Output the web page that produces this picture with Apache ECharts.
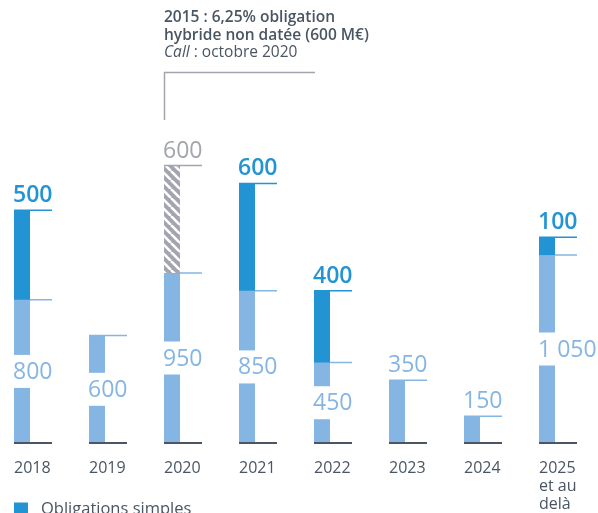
<!DOCTYPE html>
<html>
<head>
<meta charset="utf-8">
<script src="https://cdn.jsdelivr.net/npm/echarts@6/dist/echarts.min.js"></script>
<style>
html,body{margin:0;padding:0;background:#fff;}
#chart{width:598px;height:513px;}
</style>
</head>
<body>
<div id="chart"></div>
<script>
// ---- Data ----
const categories = ['2018', '2019', '2020', '2021', '2022', '2023', '2024', '2025\net au\ndelà'];
const otherBondValues = [800, 600, 950, 850, 450, 350, 150, 1050];   // light blue
const simpleBondValues = [500, 0, 0, 600, 400, 0, 0, 100];           // dark blue
const hybridBondValues = [0, 0, 600, 0, 0, 0, 0, 0];                 // hatched grey
const legendNames = ['Obligations simples'];

// ---- Styles ----
const LIGHT = '#85b5e3';
const DARK = '#2394d3';
const GREY = '#a3a5ae';
const TEXT = '#4a5563';
const BASE = '#4b5563';
const BAR_W = 16;
const BR_W = 38;
const FONT = '"Open Sans", sans-serif';

function fmt(v) { return String(v).replace(/\B(?=(\d{3})+(?!\d))/g, ' '); }

// hatch pattern
const pc = document.createElement('canvas');
pc.width = 9; pc.height = 9;
const pctx = pc.getContext('2d');
pctx.fillStyle = GREY; pctx.fillRect(0, 0, 9, 9);
pctx.strokeStyle = '#ffffff'; pctx.lineWidth = 2.6;
for (let k = -1; k <= 1; k++) {
  pctx.beginPath(); pctx.moveTo(k * 9, 0); pctx.lineTo(k * 9 + 9, 9); pctx.stroke();
}
const hatch = { image: pc, repeat: 'repeat' };

function bracket(x, y, color, w) {
  return { type: 'line', shape: { x1: x, y1: y, x2: x + BR_W, y2: y }, style: { stroke: color, lineWidth: w || 1.5 } };
}
function topLabel(x, y, text, color, weight) {
  return { type: 'text', style: { text: text, x: x - 1, y: y - 3, fill: color, font: (weight || 'normal') + ' 23px ' + FONT, textAlign: 'left', textVerticalAlign: 'bottom' } };
}

const lightData = categories.map((c, i) => [i, otherBondValues[i]]);
const darkData = categories.map((c, i) => [i, otherBondValues[i], simpleBondValues[i]]);
const hybridData = categories.map((c, i) => [i, otherBondValues[i] + simpleBondValues[i], hybridBondValues[i]]);

function renderLight(params, api) {
  const i = api.value(0), v = api.value(1);
  if (!v) return;
  const p0 = api.coord([i, 0]), p1 = api.coord([i, v]);
  const x = p0[0], h = p0[1] - p1[1];
  const ch = [];
  if (h >= 75) {
    const mid = (p0[1] + p1[1]) / 2;
    ch.push({ type: 'rect', shape: { x: x, y: mid + 16.5, width: BAR_W, height: p0[1] - mid - 16.5 }, style: { fill: LIGHT } });
    ch.push({ type: 'rect', shape: { x: x, y: p1[1], width: BAR_W, height: mid - 16.5 - p1[1] }, style: { fill: LIGHT } });
    ch.push({ type: 'text', style: { text: fmt(v), x: x - 1, y: mid + 1, fill: LIGHT, font: 'normal 23px ' + FONT, textAlign: 'left', textVerticalAlign: 'middle' } });
  } else {
    ch.push({ type: 'rect', shape: { x: x, y: p1[1], width: BAR_W, height: h }, style: { fill: LIGHT } });
    ch.push(topLabel(x, p1[1], fmt(v), LIGHT));
  }
  ch.push(bracket(x, p1[1], LIGHT));
  ch.push(bracket(x, p0[1], BASE, 2));
  return { type: 'group', children: ch };
}

function makeStackRender(fill, lineColor, labelColor, weight) {
  return function (params, api) {
    const i = api.value(0), base = api.value(1), v = api.value(2);
    if (!v) return;
    const pb = api.coord([i, base]), pt = api.coord([i, base + v]);
    const x = pb[0];
    return {
      type: 'group', children: [
        { type: 'rect', shape: { x: x, y: pt[1], width: BAR_W, height: pb[1] - pt[1] }, style: { fill: fill } },
        bracket(x, pt[1], lineColor),
        topLabel(x, pt[1], fmt(v), labelColor, weight)
      ]
    };
  };
}

const chart = echarts.init(document.getElementById('chart'), null, { renderer: 'canvas' });
chart.setOption({
  animation: false,
  backgroundColor: '#ffffff',
  grid: { left: 14, right: 59, top: 85, bottom: 68 },
  xAxis: {
    type: 'category', data: categories, boundaryGap: false,
    axisLine: { show: false }, axisTick: { show: false }, splitLine: { show: false },
    axisLabel: { align: 'left', margin: 16, color: TEXT, fontSize: 16, lineHeight: 18, fontFamily: FONT, verticalAlign: 'top' }
  },
  yAxis: { type: 'value', min: 0, max: 2000, show: false, splitLine: { show: false } },
  legend: {
    data: legendNames, orient: 'vertical', left: 9, top: 496, icon: 'rect',
    itemWidth: 14, itemHeight: 14, itemGap: 10,
    textStyle: { color: TEXT, fontSize: 16.5, fontFamily: FONT, padding: [0, 0, 0, 8] }
  },
  graphic: [
    { type: 'text', left: 164, top: 9, style: { text: '2015 : 6,25% obligation\nhybride non datée (600 M€)', fill: TEXT, font: '600 15.5px ' + FONT, lineHeight: 18 } },
    { type: 'text', left: 164, top: 45, style: { text: '{i|Call} : octobre 2020', fill: TEXT, font: '15.5px ' + FONT, rich: { i: { fontStyle: 'italic', fontSize: 15.5, fontFamily: FONT, fill: TEXT } } } },
    { type: 'polyline', shape: { points: [[164.5, 120], [164.5, 72.5], [315, 72.5]] }, style: { stroke: GREY, lineWidth: 1.5, fill: null } }
  ],
  series: [
    { type: 'custom', name: 'Autres obligations', data: lightData, encode: { x: 0, y: 1 }, renderItem: renderLight, itemStyle: { color: LIGHT } },
    { type: 'custom', name: 'Obligations simples', data: darkData, encode: { x: 0, y: [1, 2] }, renderItem: makeStackRender(DARK, DARK, DARK, '600'), itemStyle: { color: DARK } },
    { type: 'custom', name: 'Obligation hybride', data: hybridData, encode: { x: 0, y: [1, 2] }, renderItem: makeStackRender(hatch, GREY, GREY, 'normal'), itemStyle: { color: GREY } }
  ]
});
</script>
</body>
</html>
